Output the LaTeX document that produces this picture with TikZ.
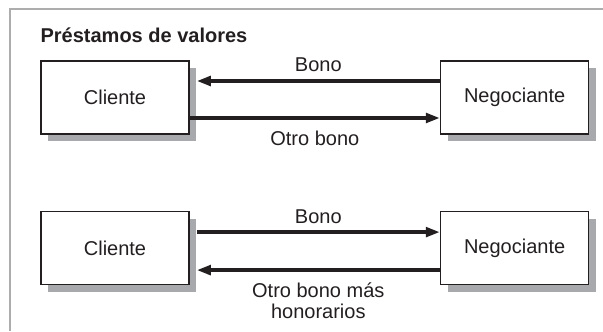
\documentclass[tikz,border=0pt]{standalone}
\usepackage{fontspec}
\setmainfont{Liberation Sans}
\usepackage{tikz}
\usetikzlibrary{arrows.meta,positioning,calc,shadows}
\definecolor{cText}{HTML}{231F20}
\definecolor{cShadow}{HTML}{A7A9AC}
\definecolor{cFrame}{HTML}{ADADAD}
\tikzset{
  party/.style={draw=cText, line width=0.8pt, fill=white, text=cText,
                minimum width=74pt, minimum height=36.5pt, font=\fontsize{10}{12}\selectfont,
                drop shadow={shadow xshift=3.5pt, shadow yshift=-3.5pt, fill=cShadow, opacity=1}},
  arr/.style={-{Triangle[length=7pt,width=4.8pt]}, line width=1.7pt, cText},
  lblup/.style={font=\fontsize{10}{10.5}\selectfont, text=cText, inner sep=3.6pt},
  lbldown/.style={font=\fontsize{10}{10.5}\selectfont, text=cText, inner sep=5.6pt, align=center},
  heading/.style={font=\bfseries\fontsize{10}{12}\selectfont, text=cText, inner sep=0pt}
}

\begin{document}
\begin{tikzpicture}[x=0.5pt, y=-0.5pt, node distance=38pt and 125pt]
\useasboundingbox (0,0) rectangle (603,331);
% frame (top and left edge only)
\draw[cFrame, line width=1pt] (9.5,331) -- (9.5,9.5) -- (603,9.5);
% first exchange
\node[party] (cli1) at (115,97.5) {Cliente};
\node[party, right=of cli1] (neg1) {Negociante};
\node[heading, above=9pt of cli1.north west, anchor=base west] (title) {Préstamos de valores};
\draw[arr] ($(neg1.west)+(0,-16.5)$) -- ($(cli1.east)+(7,-16.5)$)
     node[midway, above, lblup]{Bono};
\draw[arr] ($(cli1.east)+(0,20.5)$) -- ($(neg1.west)+(0,20.5)$)
     node[midway, below, lbldown]{Otro bono};
% second exchange
\node[party, below=of cli1] (cli2) {Cliente};
\node[party, right=of cli2] (neg2) {Negociante};
\draw[arr] ($(cli2.east)+(7,-16)$) -- ($(neg2.west)+(0,-16)$)
     node[midway, above, lblup]{Bono};
\draw[arr] ($(neg2.west)+(0,22)$) -- ($(cli2.east)+(7,22)$)
     node[midway, below, lbldown]{Otro bono más\\honorarios};
\end{tikzpicture}
\end{document}
